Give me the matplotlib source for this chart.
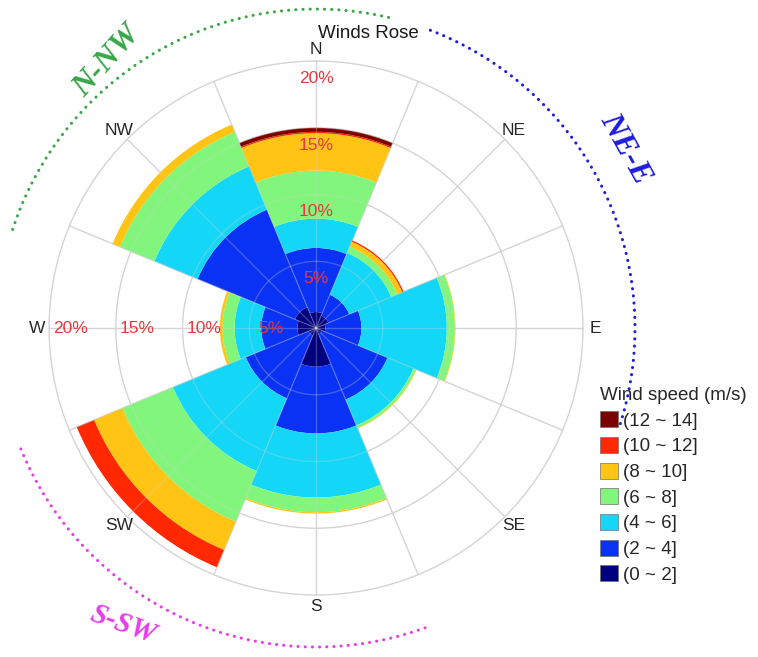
import numpy as np
import matplotlib.pyplot as plt
from matplotlib.patches import Patch

# wind rose, 8 sectors of 45 deg, frequencies in % per speed bin
directions = ['N', 'NE', 'E', 'SE', 'S', 'SW', 'W', 'NW']
bearings = [0, 45, 90, 135, 180, 225, 270, 315]

speed_bins = ['(0 ~ 2]', '(2 ~ 4]', '(4 ~ 6]', '(6 ~ 8]',
              '(8 ~ 10]', '(10 ~ 12]', '(12 ~ 14]']
bin_colors = ['#00007f', '#0a32f5', '#14d7f8', '#82f57d',
              '#ffc414', '#ff2800', '#7d0000']

#            N    NE   E    SE   S    SW   W    NW
freq_0_2 = [1.2, 1.0, 0.7, 0.5, 2.9, 0.6, 1.4, 1.7]
freq_2_4 = [4.8, 1.7, 2.7, 5.3, 5.0, 5.1, 2.7, 7.9]
freq_4_6 = [2.2, 3.4, 6.4, 2.1, 4.8, 5.9, 2.0, 3.5]
freq_6_8 = [3.6, 0.5, 0.6, 0.2, 1.1, 4.1, 0.9, 2.8]
freq_8_10 = [2.8, 0.4, 0.05, 0.05, 0.1, 2.3, 0.2, 0.6]
freq_10_12 = [0.1, 0.1, 0.0, 0.0, 0.0, 1.4, 0.0, 0.0]
freq_12_14 = [0.3, 0.0, 0.0, 0.0, 0.0, 0.0, 0.0, 0.0]

ring_levels = [5, 10, 15, 20]
ring_labels = ['5%', '10%', '15%', '20%']

# highlighted direction groups round the rose
group_labels = ['N-NW', 'NE-E', 'S-SW']
group_colors = ['#3aa648', '#1c1ce0', '#e83ce8']
group_arcs = [(-72, 14), (21, 108), (160, 248)]


def main():
    fig = plt.figure(figsize=(7.58, 6.57), dpi=100)
    ax = fig.add_axes([-0.0145, 0.003, 0.8628, 0.9954], projection='polar')
    ax.set_theta_zero_location('N')
    ax.set_theta_direction(-1)
    ax.set_ylim(0, 24.5)
    ax.axis('off')

    theta = np.deg2rad(bearings)
    series = [freq_0_2, freq_2_4, freq_4_6, freq_6_8,
              freq_8_10, freq_10_12, freq_12_14]
    bottom = np.zeros(len(directions))
    for vals, col in zip(series, bin_colors):
        ax.bar(theta, vals, width=np.deg2rad(45), bottom=bottom,
               color=col, linewidth=0, zorder=2)
        bottom = bottom + np.array(vals)

    # grid: light grey under the bars, a faint copy over them
    t = np.linspace(0, 2 * np.pi, 400)
    for z, a in [(1, 1.0), (3, 0.3)]:
        for r in ring_levels:
            ax.plot(t, np.full_like(t, r), color='#d4d4d4', lw=0.9, alpha=a, zorder=z)
        for b in np.arange(0, 360, 22.5):
            ax.plot([np.deg2rad(b)] * 2, [0, 20], color='#d4d4d4', lw=0.9, alpha=a, zorder=z)

    # direction labels
    for d, b in zip(directions, bearings):
        ax.text(np.deg2rad(b), 20.9, d, ha='center', va='center',
                fontsize=12.5, color='#262626', family='Liberation Sans', zorder=5)

    # frequency labels along N and W
    for r, lab in zip(ring_levels, ring_labels):
        ax.text(0, r - 1.3, lab, ha='center', va='center', fontsize=12.5,
                color='#e8383d', family='Liberation Sans', zorder=5)
        ax.text(np.deg2rad(270), r - 1.6, lab, ha='center', va='center', fontsize=12.5,
                color='#e8383d', family='Liberation Sans', zorder=5)

    # dotted arcs round the rose
    label_pos = [(-38, 25.4, 48), (60, 26.8, -61), (213, 26.5, -20)]
    label_size = [23, 23, 21]
    for lab, col, (a0, a1), (lb, lr, rot), fs in zip(group_labels, group_colors, group_arcs,
                                                    label_pos, label_size):
        ta = np.deg2rad(np.linspace(a0, a1, 200))
        ax.plot(ta, np.full_like(ta, 23.9), color=col, lw=2.2,
                linestyle=(0, (0.05, 2.3)), dash_capstyle='round', clip_on=False, zorder=4)
        ax.text(np.deg2rad(lb), lr, lab, ha='center', va='center', rotation=rot,
                fontsize=fs, color=col, family='Liberation Serif', weight='bold',
                style='italic', clip_on=False, zorder=5)

    fig.text(368 / 758, 1 - 33 / 657, 'Winds Rose', ha='center', va='center',
             fontsize=13.5, color='#1a1a1a', family='Liberation Sans')

    handles = [Patch(facecolor=c, edgecolor='#707070', linewidth=0.5, label=l)
               for c, l in zip(bin_colors, speed_bins)][::-1]
    leg = fig.legend(handles=handles, loc='upper left',
                     bbox_to_anchor=(587 / 758, 1 - 374 / 657),
                     title='Wind speed (m/s)', frameon=False,
                     prop={'family': 'Liberation Sans', 'size': 13.5},
                     title_fontproperties={'family': 'Liberation Sans', 'size': 13.5},
                     handlelength=0.95, handleheight=0.95, handletextpad=0.25,
                     labelspacing=0.38, borderpad=0.2, alignment='left')
    for txt in leg.get_texts():
        txt.set_color('#262626')
    leg.get_title().set_color('#262626')

    plt.savefig('out.png', dpi=100)


if __name__ == '__main__':
    main()
